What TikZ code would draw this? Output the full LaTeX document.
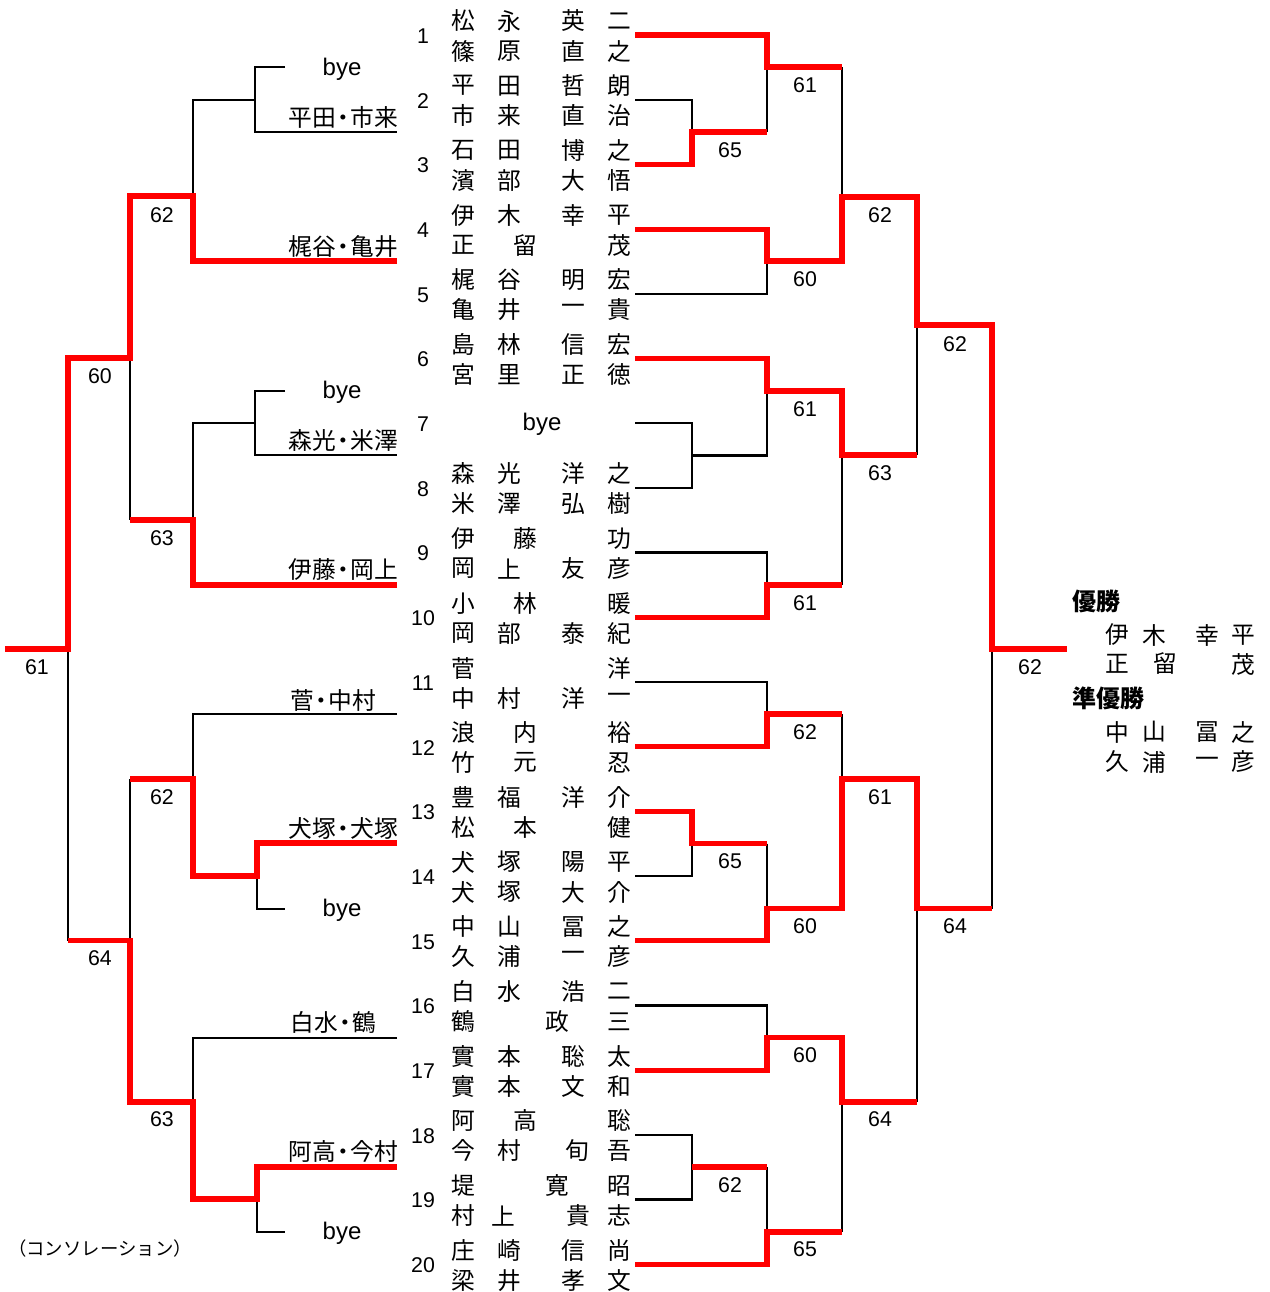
\documentclass[tikz,border=0pt]{standalone}
\usepackage{fontspec}
\setmainfont{Noto Sans CJK JP}
\newfontfamily\latinf{Liberation Sans}
\newcount\nodecnt
\tikzset{
  x=0.75pt, y=-0.75pt,
  blk/.style={draw=black, line width=1.7pt},
  redl/.style={draw=red, line width=3.9pt, line join=miter},
  jp/.style={inner sep=0pt, font=\fontsize{17.8pt}{20pt}\selectfont},
  jpb/.style={inner sep=0pt, font=\fontsize{18pt}{20pt}\selectfont\bfseries},
  num/.style={inner sep=0pt, font=\fontsize{16pt}{18pt}\selectfont\latinf},
  byet/.style={inner sep=0pt, font=\fontsize{18pt}{20pt}\selectfont\latinf},
  team/.style={inner sep=0pt, font=\fontsize{17.8pt}{20pt}\selectfont},
}
\newcommand\jc[3]{\global\advance\nodecnt by 1 \node[jp] (c\the\nodecnt) at (#1,{#2}) {#3};}
\newcommand\full[5]{\jc{463}{#1}{#2}\jc{509}{#1}{#3}\jc{573}{#1}{#4}\jc{619}{#1}{#5}}
\newcommand\yt[1]{21+(#1-1)*64.7}
\newcommand\yb[1]{51+(#1-1)*64.7}
\newcommand\scr[3]{\global\advance\nodecnt by 1 \node[num] (s\the\nodecnt) at (#1,#2) {#3};}
\begin{document}
\begin{tikzpicture}
\useasboundingbox (0,0) rectangle (1270,1292);
% ---------- names ----------
\full{\yt{1}}{松}{永}{英}{二}  \full{\yb{1}}{篠}{原}{直}{之}
\full{\yt{2}}{平}{田}{哲}{朗}  \full{\yb{2}}{市}{来}{直}{治}
\full{\yt{3}}{石}{田}{博}{之}  \full{\yb{3}}{濱}{部}{大}{悟}
\full{\yt{4}}{伊}{木}{幸}{平}  \jc{463}{\yb{4}}{正}\jc{525}{\yb{4}}{留}\jc{619}{\yb{4}}{茂}
\full{\yt{5}}{梶}{谷}{明}{宏}  \full{\yb{5}}{亀}{井}{一}{貴}
\full{\yt{6}}{島}{林}{信}{宏}  \full{\yb{6}}{宮}{里}{正}{徳}
\node[byet] (bye7) at (542,424) {bye};
\full{\yt{8}}{森}{光}{洋}{之}  \full{\yb{8}}{米}{澤}{弘}{樹}
\jc{463}{\yt{9}}{伊}\jc{525}{\yt{9}}{藤}\jc{619}{\yt{9}}{功}  \full{\yb{9}}{岡}{上}{友}{彦}
\jc{463}{\yt{10}}{小}\jc{525}{\yt{10}}{林}\jc{619}{\yt{10}}{暖}  \full{\yb{10}}{岡}{部}{泰}{紀}
\jc{463}{\yt{11}}{菅}\jc{619}{\yt{11}}{洋}  \full{\yb{11}}{中}{村}{洋}{一}
\jc{463}{\yt{12}}{浪}\jc{525}{\yt{12}}{内}\jc{619}{\yt{12}}{裕}
\jc{463}{\yb{12}}{竹}\jc{525}{\yb{12}}{元}\jc{619}{\yb{12}}{忍}
\full{\yt{13}}{豊}{福}{洋}{介}  \jc{463}{\yb{13}}{松}\jc{525}{\yb{13}}{本}\jc{619}{\yb{13}}{健}
\full{\yt{14}}{犬}{塚}{陽}{平}  \full{\yb{14}}{犬}{塚}{大}{介}
\full{\yt{15}}{中}{山}{冨}{之}  \full{\yb{15}}{久}{浦}{一}{彦}
\full{\yt{16}}{白}{水}{浩}{二}  \jc{463}{\yb{16}}{鶴}\jc{557}{\yb{16}}{政}\jc{619}{\yb{16}}{三}
\full{\yt{17}}{實}{本}{聡}{太}  \full{\yb{17}}{實}{本}{文}{和}
\jc{463}{\yt{18}}{阿}\jc{525}{\yt{18}}{高}\jc{619}{\yt{18}}{聡}
\jc{463}{\yb{18}}{今}\jc{509}{\yb{18}}{村}\jc{577}{\yb{18}}{旬}\jc{619}{\yb{18}}{吾}
\jc{463}{\yt{19}}{堤}\jc{557}{\yt{19}}{寛}\jc{619}{\yt{19}}{昭}
\jc{463}{\yb{19}}{村}\jc{503}{\yb{19}}{上}\jc{578}{\yb{19}}{貴}\jc{619}{\yb{19}}{志}
\full{\yt{20}}{庄}{崎}{信}{尚}  \full{\yb{20}}{梁}{井}{孝}{文}
% ---------- entry numbers ----------
\foreach \k in {1,...,20} {\node[num] (n\k) at (423,{36+(\k-1)*64.7}) {\k};}
% ---------- right bracket: black ----------
\draw[blk] (635,99.7) -- (692,99.7) -- (692,132);
\draw[blk] (767,67) -- (767,132);
\draw[blk] (635,293.8) -- (767,293.8) -- (767,261);
\draw[blk] (842,67) -- (842,197);
\draw[blk] (635,423.2) -- (692,423.2) -- (692,487.9) -- (635,487.9);
\draw[blk] (692,455.5) -- (767,455.5) -- (767,391);
\draw[blk] (635,552.6) -- (767,552.6) -- (767,585);
\draw[blk] (842,455) -- (842,585);
\draw[blk] (917,325) -- (917,455);
\draw[blk] (635,682) -- (767,682) -- (767,714);
\draw[blk] (692,843.5) -- (692,876.1) -- (635,876.1);
\draw[blk] (767,843.5) -- (767,908.5);
\draw[blk] (842,714) -- (842,779);
\draw[blk] (635,1005.5) -- (767,1005.5) -- (767,1037.8);
\draw[blk] (635,1134.9) -- (692,1134.9) -- (692,1199.6) -- (635,1199.6);
\draw[blk] (767,1167) -- (767,1232);
\draw[blk] (842,1102) -- (842,1232);
\draw[blk] (917,908.5) -- (917,1102);
\draw[blk] (992,649) -- (992,908.5);
% ---------- left bracket: black ----------
\draw[blk] (285,67) -- (255,67) -- (255,132) -- (397,132);
\draw[blk] (255,100) -- (193,100) -- (193,196);
\draw[blk] (285,391) -- (255,391) -- (255,455) -- (397,455);
\draw[blk] (255,423) -- (193,423) -- (193,520);
\draw[blk] (130,358) -- (130,520);
\draw[blk] (397,714) -- (193,714) -- (193,779);
\draw[blk] (257,876) -- (257,909) -- (285,909);
\draw[blk] (397,1037.8) -- (193,1037.8) -- (193,1102);
\draw[blk] (257,1199) -- (257,1232) -- (285,1232);
\draw[blk] (130,779) -- (130,940.8);
\draw[blk] (68,649) -- (68,940.8);
% ---------- right bracket: red ----------
\draw[redl] (635,164.4) -- (692,164.4) -- (692,132) -- (767,132);
\draw[redl] (635,35) -- (767,35) -- (767,67) -- (842,67);
\draw[redl] (635,229.1) -- (767,229.1) -- (767,261) -- (842,261) -- (842,197) -- (917,197) -- (917,325) -- (992,325) -- (992,649) -- (1067,649);
\draw[redl] (635,358.5) -- (767,358.5) -- (767,391) -- (842,391) -- (842,455) -- (917,455);
\draw[redl] (635,617.3) -- (767,617.3) -- (767,585) -- (842,585);
\draw[redl] (635,746.7) -- (767,746.7) -- (767,714) -- (842,714);
\draw[redl] (635,811.4) -- (692,811.4) -- (692,843.5) -- (767,843.5);
\draw[redl] (635,940.8) -- (767,940.8) -- (767,908.5) -- (842,908.5) -- (842,779) -- (917,779) -- (917,908.5) -- (992,908.5);
\draw[redl] (635,1070.2) -- (767,1070.2) -- (767,1037.8) -- (842,1037.8) -- (842,1102) -- (917,1102);
\draw[redl] (692,1167) -- (767,1167);
\draw[redl] (635,1264.3) -- (767,1264.3) -- (767,1232) -- (842,1232);
% ---------- left bracket: red ----------
\draw[redl] (397,261) -- (193,261) -- (193,196) -- (130,196) -- (130,358) -- (68,358) -- (68,649) -- (5,649);
\draw[redl] (397,585) -- (193,585) -- (193,520) -- (130,520);
\draw[redl] (397,843) -- (257,843) -- (257,876) -- (193,876) -- (193,779) -- (130,779);
\draw[redl] (397,1167) -- (257,1167) -- (257,1199) -- (193,1199) -- (193,1102) -- (130,1102) -- (130,940.8) -- (68,940.8);
% ---------- scores ----------
\scr{805}{85}{61} \scr{730}{150}{65} \scr{805}{279}{60} \scr{880}{215}{62}
\scr{805}{409}{61} \scr{805}{603}{61} \scr{880}{473}{63} \scr{955}{344}{62}
\scr{805}{732}{62} \scr{730}{861}{65} \scr{805}{926}{60} \scr{880}{797}{61}
\scr{805}{1055}{60} \scr{730}{1185}{62} \scr{805}{1249}{65} \scr{880}{1119}{64}
\scr{955}{926}{64} \scr{1030}{667}{62}
\scr{162}{215}{62} \scr{162}{538}{63} \scr{100}{376}{60} \scr{162}{797}{62}
\scr{162}{1119}{63} \scr{100}{958}{64} \scr{37}{667}{61}
% ---------- left team labels ----------
\node[byet] (bye1) at (342,69) {bye};
\node[byet] (bye2) at (342,392) {bye};
\node[byet] (bye3) at (342,910) {bye};
\node[byet] (bye4) at (342,1233) {bye};
\node[team, anchor=east] (t1) at (398,117) {平田\kern-0.2em・\kern-0.2em市来};
\node[team, anchor=east] (t2) at (398,247) {梶谷\kern-0.2em・\kern-0.2em亀井};
\node[team, anchor=east] (t3) at (398,440) {森光\kern-0.2em・\kern-0.2em米澤};
\node[team, anchor=east] (t4) at (398,570) {伊藤\kern-0.2em・\kern-0.2em岡上};
\node[team, anchor=west] (t5) at (290,700) {菅\kern-0.2em・\kern-0.2em中村};
\node[team, anchor=east] (t6) at (398,828) {犬塚\kern-0.2em・\kern-0.2em犬塚};
\node[team, anchor=west] (t7) at (290,1022) {白水\kern-0.2em・\kern-0.2em鶴};
\node[team, anchor=east] (t8) at (398,1151) {阿高\kern-0.2em・\kern-0.2em今村};
% ---------- winners ----------
\node[jpb, anchor=west] (win) at (1072,601) {優勝};
\node[jpb, anchor=west] (run) at (1072,698) {準優勝};
\jc{1117}{635}{伊}\jc{1154}{635}{木}\jc{1207}{635}{幸}\jc{1243}{635}{平}
\jc{1117}{664}{正}\jc{1165}{664}{留}\jc{1243}{664}{茂}
\jc{1117}{732}{中}\jc{1154}{732}{山}\jc{1207}{732}{冨}\jc{1243}{732}{之}
\jc{1117}{762}{久}\jc{1154}{762}{浦}\jc{1207}{762}{一}\jc{1243}{762}{彦}
% ---------- consolation ----------
\node[inner sep=0pt, font=\fontsize{13.8pt}{15pt}\selectfont] (cons) at (100,1248) {（コンソレーション）};
\end{tikzpicture}
\end{document}
